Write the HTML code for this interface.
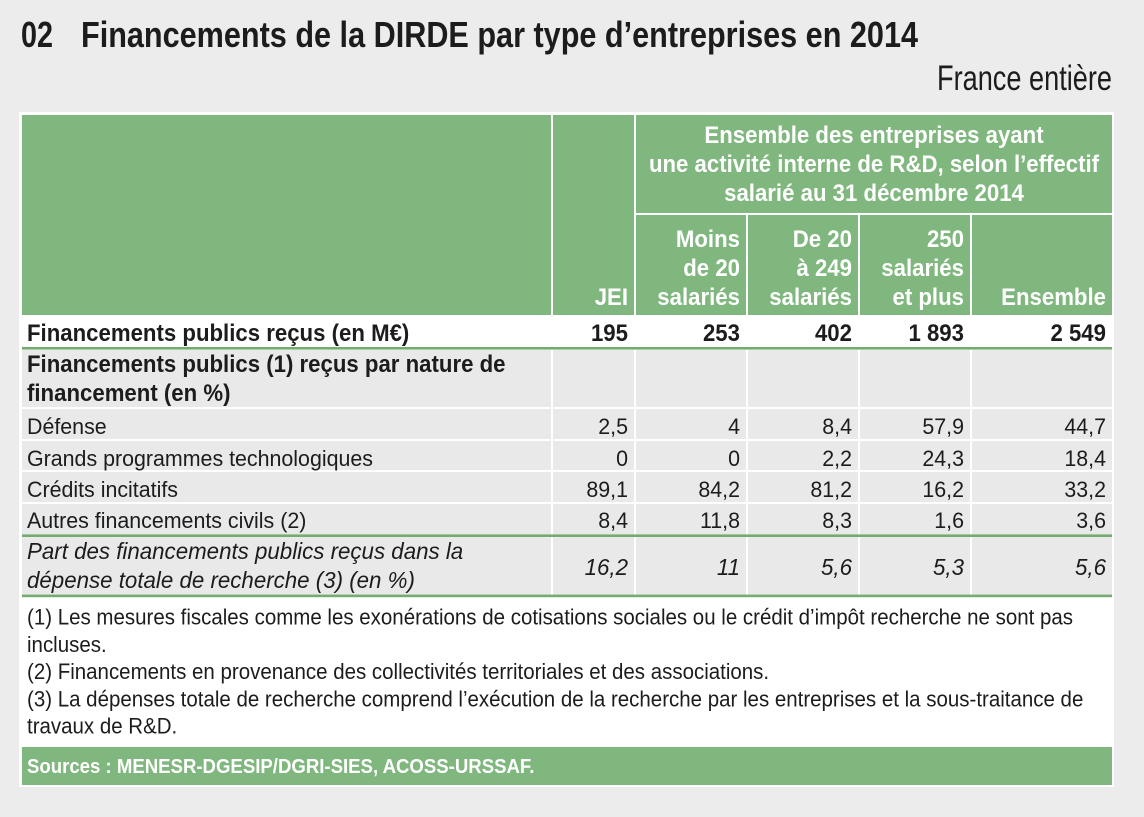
<!DOCTYPE html>
<html><head><meta charset="utf-8"><style>
html,body{margin:0;padding:0;background:#ececec;}
svg{display:block;}
text{font-family:"Liberation Sans",Arial,sans-serif;}
.b{font-weight:bold;}
.w{fill:#ffffff;font-weight:bold;font-size:24px;}
.k{fill:#1c1c1c;}
.r{font-size:22px;fill:#1c1c1c;}
.rb{font-size:24px;font-weight:bold;fill:#1c1c1c;}
.it{font-size:23px;font-style:italic;fill:#1c1c1c;}
.fn{font-size:22px;fill:#1c1c1c;}
</style></head><body>
<svg width="1144" height="817" xmlns="http://www.w3.org/2000/svg">
<rect x="0" y="0" width="1144" height="817" fill="#ececec"/>
<!-- title -->
<text class="b k" font-size="36" x="21" y="47" textLength="32" lengthAdjust="spacingAndGlyphs">02</text>
<text class="b k" font-size="36" x="81" y="47" textLength="837" lengthAdjust="spacingAndGlyphs">Financements de la DIRDE par type d’entreprises en 2014</text>
<text class="k" font-size="35" x="1112" y="90" text-anchor="end" textLength="175" lengthAdjust="spacingAndGlyphs">France entière</text>

<!-- frame -->
<rect x="19" y="112" width="1095" height="675" fill="#ffffff"/>

<!-- header cells -->
<g fill="#80b77e">
<rect x="22" y="115" width="529" height="200"/>
<rect x="553" y="115" width="81" height="200"/>
<rect x="636" y="115" width="476" height="98"/>
<rect x="636" y="215" width="110" height="100"/>
<rect x="748" y="215" width="110" height="100"/>
<rect x="860" y="215" width="110" height="100"/>
<rect x="972" y="215" width="140" height="100"/>
</g>

<!-- gray body cells -->
<g fill="#e9e9e9">
<rect x="22" y="350" width="529" height="57"/><rect x="553" y="350" width="81" height="57"/><rect x="636" y="350" width="110" height="57"/><rect x="748" y="350" width="110" height="57"/><rect x="860" y="350" width="110" height="57"/><rect x="972" y="350" width="140" height="57"/>
<rect x="22" y="409" width="529" height="30"/><rect x="553" y="409" width="81" height="30"/><rect x="636" y="409" width="110" height="30"/><rect x="748" y="409" width="110" height="30"/><rect x="860" y="409" width="110" height="30"/><rect x="972" y="409" width="140" height="30"/>
<rect x="22" y="441" width="529" height="29"/><rect x="553" y="441" width="81" height="29"/><rect x="636" y="441" width="110" height="29"/><rect x="748" y="441" width="110" height="29"/><rect x="860" y="441" width="110" height="29"/><rect x="972" y="441" width="140" height="29"/>
<rect x="22" y="472" width="529" height="30"/><rect x="553" y="472" width="81" height="30"/><rect x="636" y="472" width="110" height="30"/><rect x="748" y="472" width="110" height="30"/><rect x="860" y="472" width="110" height="30"/><rect x="972" y="472" width="140" height="30"/>
<rect x="22" y="504" width="529" height="31"/><rect x="553" y="504" width="81" height="31"/><rect x="636" y="504" width="110" height="31"/><rect x="748" y="504" width="110" height="31"/><rect x="860" y="504" width="110" height="31"/><rect x="972" y="504" width="140" height="31"/>
<rect x="22" y="537" width="529" height="58"/><rect x="553" y="537" width="81" height="58"/><rect x="636" y="537" width="110" height="58"/><rect x="748" y="537" width="110" height="58"/><rect x="860" y="537" width="110" height="58"/><rect x="972" y="537" width="140" height="58"/>
</g>

<!-- green rules -->
<g fill="#74ab71">
<rect x="22" y="347" width="1090" height="2.6"/>
<rect x="22" y="534.4" width="1090" height="2.6"/>
<rect x="22" y="594.6" width="1090" height="2.6"/>
</g>

<!-- sources bar -->
<rect x="22" y="747" width="1090" height="38" fill="#80b77e"/>

<!-- header text -->
<text class="w" text-anchor="middle" transform="translate(874,143) scale(0.925,1)">Ensemble des entreprises ayant</text>
<text class="w" text-anchor="middle" transform="translate(874,172) scale(0.925,1)">une activité interne de R&amp;D, selon l’effectif</text>
<text class="w" text-anchor="middle" transform="translate(874,201) scale(0.925,1)">salarié au 31 décembre 2014</text>

<text class="w" text-anchor="end" transform="translate(628,305) scale(0.925,1)">JEI</text>

<text class="w" text-anchor="end" transform="translate(740,247) scale(0.925,1)">Moins</text>
<text class="w" text-anchor="end" transform="translate(740,276) scale(0.925,1)">de 20</text>
<text class="w" text-anchor="end" transform="translate(740,305) scale(0.925,1)">salariés</text>

<text class="w" text-anchor="end" transform="translate(852,247) scale(0.925,1)">De 20</text>
<text class="w" text-anchor="end" transform="translate(852,276) scale(0.925,1)">à 249</text>
<text class="w" text-anchor="end" transform="translate(852,305) scale(0.925,1)">salariés</text>

<text class="w" text-anchor="end" transform="translate(964,247) scale(0.925,1)">250</text>
<text class="w" text-anchor="end" transform="translate(964,276) scale(0.925,1)">salariés</text>
<text class="w" text-anchor="end" transform="translate(964,305) scale(0.925,1)">et plus</text>

<text class="w" text-anchor="end" transform="translate(1106,305) scale(0.925,1)">Ensemble</text>

<!-- row 1 -->
<text class="rb" transform="translate(27,341) scale(0.925,1)">Financements publics reçus (en M€)</text>
<text class="rb" text-anchor="end" transform="translate(628,341) scale(0.925,1)">195</text>
<text class="rb" text-anchor="end" transform="translate(740,341) scale(0.925,1)">253</text>
<text class="rb" text-anchor="end" transform="translate(852,341) scale(0.925,1)">402</text>
<text class="rb" text-anchor="end" transform="translate(964,341) scale(0.925,1)">1 893</text>
<text class="rb" text-anchor="end" transform="translate(1106,341) scale(0.925,1)">2 549</text>

<!-- row 2 -->
<text class="rb" transform="translate(27,372) scale(0.925,1)">Financements publics (1) reçus par nature de</text>
<text class="rb" transform="translate(27,401) scale(0.925,1)">financement (en %)</text>

<!-- Défense -->
<text class="r" transform="translate(27,434) scale(0.973,1)">Défense</text>
<text class="r" text-anchor="end" transform="translate(628,434) scale(0.973,1)">2,5</text>
<text class="r" text-anchor="end" transform="translate(740,434) scale(0.973,1)">4</text>
<text class="r" text-anchor="end" transform="translate(852,434) scale(0.973,1)">8,4</text>
<text class="r" text-anchor="end" transform="translate(964,434) scale(0.973,1)">57,9</text>
<text class="r" text-anchor="end" transform="translate(1106,434) scale(0.973,1)">44,7</text>

<!-- Grands programmes -->
<text class="r" transform="translate(27,466) scale(0.973,1)">Grands programmes technologiques</text>
<text class="r" text-anchor="end" transform="translate(628,466) scale(0.973,1)">0</text>
<text class="r" text-anchor="end" transform="translate(740,466) scale(0.973,1)">0</text>
<text class="r" text-anchor="end" transform="translate(852,466) scale(0.973,1)">2,2</text>
<text class="r" text-anchor="end" transform="translate(964,466) scale(0.973,1)">24,3</text>
<text class="r" text-anchor="end" transform="translate(1106,466) scale(0.973,1)">18,4</text>

<!-- Crédits incitatifs -->
<text class="r" transform="translate(27,497) scale(0.973,1)">Crédits incitatifs</text>
<text class="r" text-anchor="end" transform="translate(628,497) scale(0.973,1)">89,1</text>
<text class="r" text-anchor="end" transform="translate(740,497) scale(0.973,1)">84,2</text>
<text class="r" text-anchor="end" transform="translate(852,497) scale(0.973,1)">81,2</text>
<text class="r" text-anchor="end" transform="translate(964,497) scale(0.973,1)">16,2</text>
<text class="r" text-anchor="end" transform="translate(1106,497) scale(0.973,1)">33,2</text>

<!-- Autres -->
<text class="r" transform="translate(27,528) scale(0.973,1)">Autres financements civils (2)</text>
<text class="r" text-anchor="end" transform="translate(628,528) scale(0.973,1)">8,4</text>
<text class="r" text-anchor="end" transform="translate(740,528) scale(0.973,1)">11,8</text>
<text class="r" text-anchor="end" transform="translate(852,528) scale(0.973,1)">8,3</text>
<text class="r" text-anchor="end" transform="translate(964,528) scale(0.973,1)">1,6</text>
<text class="r" text-anchor="end" transform="translate(1106,528) scale(0.973,1)">3,6</text>

<!-- italic row -->
<text class="it" transform="translate(27,559) scale(0.97,1)">Part des financements publics reçus dans la</text>
<text class="it" transform="translate(27,588) scale(0.97,1)">dépense totale de recherche (3) (en %)</text>
<text class="it" text-anchor="end" transform="translate(628,575) scale(0.97,1)">16,2</text>
<text class="it" text-anchor="end" transform="translate(740,575) scale(0.97,1)">11</text>
<text class="it" text-anchor="end" transform="translate(852,575) scale(0.97,1)">5,6</text>
<text class="it" text-anchor="end" transform="translate(964,575) scale(0.97,1)">5,3</text>
<text class="it" text-anchor="end" transform="translate(1106,575) scale(0.97,1)">5,6</text>

<!-- footnotes -->
<text class="fn" transform="translate(27,624.5) scale(0.931,1)">(1) Les mesures fiscales comme les exonérations de cotisations sociales ou le crédit d’impôt recherche ne sont pas</text>
<text class="fn" transform="translate(27,651.8) scale(0.931,1)">incluses.</text>
<text class="fn" transform="translate(27,679) scale(0.931,1)">(2) Financements en provenance des collectivités territoriales et des associations.</text>
<text class="fn" transform="translate(27,706.3) scale(0.931,1)">(3) La dépenses totale de recherche comprend l’exécution de la recherche par les entreprises et la sous-traitance de</text>
<text class="fn" transform="translate(27,733.5) scale(0.931,1)">travaux de R&amp;D.</text>

<!-- sources -->
<text fill="#ffffff" font-weight="bold" font-size="20" transform="translate(27,773) scale(0.93,1)">Sources : MENESR-DGESIP/DGRI-SIES, ACOSS-URSSAF.</text>
</svg>
</body></html>
